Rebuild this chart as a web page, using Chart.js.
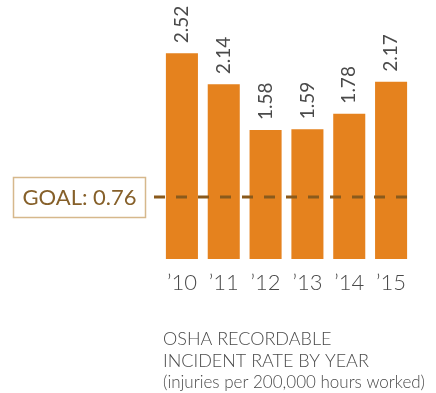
<!DOCTYPE html>
<html lang="en">
<head>
    <meta charset="UTF-8">
    <title>OSHA Recordable Incident Rate</title>
    <script src="https://cdn.jsdelivr.net/npm/chart.js"></script>
    <style>
        body { margin: 0; background: #fff; }
    </style>
</head>
<body>
    <canvas id="oshaChart" width="436" height="393"></canvas>

    <script>
        const years = ['\u201910', '\u201911', '\u201912', '\u201913', '\u201914', '\u201915'];
        const rates = [2.52, 2.14, 1.58, 1.59, 1.78, 2.17];
        const goal = 0.76;
        const captionLines = ['OSHA RECORDABLE', 'INCIDENT RATE BY YEAR', '(injuries per 200,000 hours worked)'];

        const textGray = '#4a4a4a';
        const fontFamily = 'Lato, "Open Sans", sans-serif';

        // goal line, rotated value labels, year labels, goal box and caption
        const decorations = {
            id: 'decorations',
            afterDatasetsDraw(chart) {
                const ctx = chart.ctx;
                const x = chart.scales.x;
                const y = chart.scales.y;
                const meta = chart.getDatasetMeta(0);

                // dashed goal line
                const gy = y.getPixelForValue(goal);
                ctx.save();
                ctx.strokeStyle = '#8a5a1c';
                ctx.lineWidth = 3;
                ctx.setLineDash([11, 11]);
                ctx.beginPath();
                ctx.moveTo(154, gy);
                ctx.lineTo(x.right - 4, gy);
                ctx.stroke();
                ctx.restore();

                // value labels, rotated
                ctx.save();
                ctx.fillStyle = textGray;
                ctx.font = '400 19px ' + fontFamily;
                ctx.textAlign = 'left';
                ctx.textBaseline = 'middle';
                meta.data.forEach((bar, i) => {
                    ctx.save();
                    ctx.translate(bar.x, bar.y - 10);
                    ctx.rotate(-Math.PI / 2);
                    ctx.fillText(rates[i].toFixed(2), 0, 0);
                    ctx.restore();
                });
                ctx.restore();

                // year labels
                ctx.save();
                ctx.fillStyle = textGray;
                ctx.font = '300 22px ' + fontFamily;
                ctx.textAlign = 'center';
                ctx.textBaseline = 'alphabetic';
                years.forEach((yr, i) => {
                    ctx.fillText(yr, x.getPixelForValue(i), y.bottom + 31);
                });
                ctx.restore();

                // goal box
                ctx.save();
                ctx.strokeStyle = '#d6b88c';
                ctx.lineWidth = 1.5;
                ctx.strokeRect(13.5, 177.5, 132, 40);
                ctx.fillStyle = '#86602a';
                ctx.font = '400 22px ' + fontFamily;
                ctx.textAlign = 'center';
                ctx.textBaseline = 'middle';
                ctx.fillText('GOAL: ' + goal.toFixed(2), 79.5, gy + 1);
                ctx.restore();

                // caption
                ctx.save();
                ctx.fillStyle = textGray;
                ctx.textAlign = 'left';
                ctx.textBaseline = 'alphabetic';
                ctx.font = '300 18px ' + fontFamily;
                ctx.fillText(captionLines[0], 163, 345);
                ctx.fillText(captionLines[1], 163, 367);
                ctx.font = '300 17px ' + fontFamily;
                ctx.fillText(captionLines[2], 163, 388);
                ctx.restore();
            }
        };

        const chart = new Chart(document.getElementById('oshaChart').getContext('2d'), {
            type: 'bar',
            data: {
                labels: years,
                datasets: [{
                    data: rates,
                    backgroundColor: '#e5821e',
                    borderWidth: 0,
                    barPercentage: 0.766,
                    categoryPercentage: 1.0
                }]
            },
            options: {
                responsive: false,
                animation: false,
                layout: {
                    padding: { left: 161, right: 24, top: 14, bottom: 134 }
                },
                plugins: {
                    legend: { display: false },
                    tooltip: { enabled: false }
                },
                scales: {
                    x: { display: false },
                    y: { display: false, min: 0, max: 3 }
                }
            },
            plugins: [decorations]
        });
    </script>
</body>
</html>
